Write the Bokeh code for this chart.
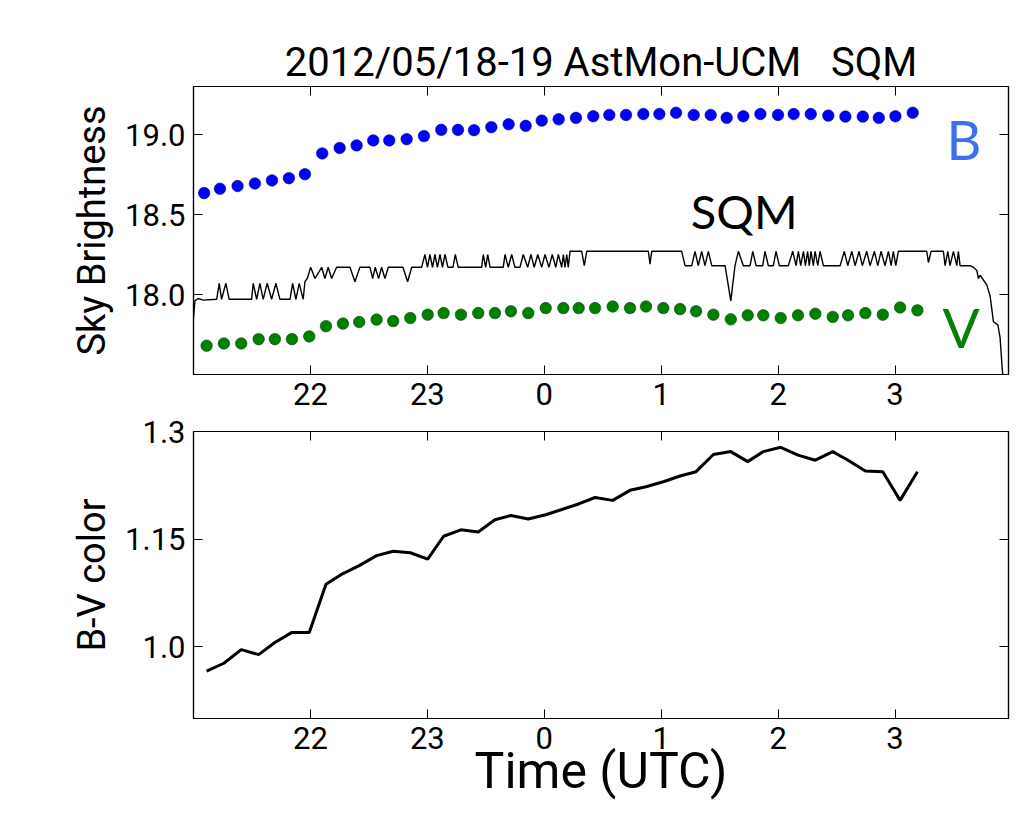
from bokeh.plotting import figure
from bokeh.layouts import column
from bokeh.models import Range1d, FixedTicker, LinearAxis, Label
from bokeh.embed import file_html
from bokeh.resources import INLINE

# ---------------- data (time in hours relative to 0h UTC of 2012/05/19) ----------------
x_ticks = [-2, -1, 0, 1, 2, 3]
x_tick_labels = ["22", "23", "0", "1", "2", "3"]
top_y_ticks = [18.0, 18.5, 19.0]
top_y_tick_labels = ["18.0", "18.5", "19.0"]
bot_y_ticks = [1.0, 1.15, 1.3]
bot_y_tick_labels = ["1.0", "1.15", "1.3"]

b_time = [-2.909, -2.774, -2.623, -2.475, -2.329, -2.184, -2.047, -1.899, -1.750, -1.605,
          -1.463, -1.326, -1.177, -1.029, -0.881, -0.738, -0.601, -0.453, -0.305, -0.159,
          -0.022, 0.123, 0.271, 0.419, 0.556, 0.699, 0.847, 0.984, 1.127, 1.278,
          1.423, 1.560, 1.702, 1.848, 1.999, 2.133, 2.279, 2.429, 2.575, 2.724,
          2.861, 3.003, 3.151]
b_mag = [18.634, 18.661, 18.678, 18.694, 18.713, 18.727, 18.752, 18.882, 18.916, 18.932,
         18.963, 18.963, 18.971, 18.990, 19.029, 19.029, 19.027, 19.046, 19.064, 19.054,
         19.087, 19.095, 19.104, 19.114, 19.122, 19.122, 19.128, 19.128, 19.136, 19.122,
         19.122, 19.104, 19.114, 19.128, 19.122, 19.128, 19.128, 19.118, 19.112, 19.112,
         19.104, 19.114, 19.136]

v_time = [-2.888, -2.740, -2.592, -2.443, -2.304, -2.158, -2.010, -1.867, -1.722, -1.583,
          -1.434, -1.292, -1.146, -0.997, -0.861, -0.713, -0.565, -0.422, -0.285, -0.137,
          0.012, 0.163, 0.294, 0.434, 0.585, 0.733, 0.870, 1.018, 1.161, 1.298,
          1.446, 1.595, 1.740, 1.873, 2.022, 2.170, 2.318, 2.467, 2.598, 2.746,
          2.895, 3.043, 3.191]
v_mag = [17.680, 17.694, 17.694, 17.721, 17.721, 17.721, 17.738, 17.802, 17.818, 17.828,
         17.843, 17.834, 17.853, 17.874, 17.884, 17.874, 17.884, 17.884, 17.895, 17.884,
         17.915, 17.915, 17.915, 17.915, 17.925, 17.915, 17.925, 17.915, 17.909, 17.895,
         17.874, 17.845, 17.870, 17.870, 17.853, 17.870, 17.880, 17.860, 17.870, 17.884,
         17.874, 17.919, 17.901]

bv_color = [0.966, 0.977, 0.996, 0.989, 1.006, 1.020, 1.020, 1.087, 1.102, 1.113,
            1.127, 1.133, 1.131, 1.122, 1.154, 1.163, 1.160, 1.177, 1.183, 1.178,
            1.184, 1.192, 1.199, 1.208, 1.204, 1.218, 1.223, 1.230, 1.238, 1.244,
            1.268, 1.272, 1.258, 1.272, 1.278, 1.267, 1.260, 1.272, 1.260, 1.245,
            1.244, 1.204, 1.244]

sqm_time = [-3.000, -2.988, -2.960, -2.917, -2.802, -2.780, -2.760, -2.723, -2.695, -2.503,
            -2.489, -2.460, -2.432, -2.404, -2.370, -2.332, -2.295, -2.261, -2.175, -2.152,
            -2.124, -2.096, -2.062, -2.047, -2.027,
            -1.998, -1.961, -1.904, -1.876, -1.848, -1.819, -1.776, -1.662, -1.619, -1.577,
            -1.491, -1.468, -1.446, -1.417, -1.391, -1.363, -1.334, -1.209, -1.169, -1.134,
            -1.049,
            -1.021, -0.999, -0.978, -0.956, -0.935, -0.914, -0.892, -0.871, -0.849, -0.824,
            -0.781, -0.761, -0.736, -0.536, -0.522, -0.501, -0.484, -0.464, -0.351, -0.336,
            -0.308, -0.279, -0.251, -0.208, -0.180, -0.142, -0.114, -0.086, -0.056, -0.022,
            0.006, 0.040, 0.068, 0.098, 0.120, 0.149, 0.163, 0.177, 0.192, 0.205,
            0.220, 0.320, 0.342, 0.363, 0.890, 0.904, 0.919, 1.175, 1.204, 1.261,
            1.289, 1.317, 1.346, 1.374, 1.403, 1.432, 1.546, 1.595, 1.631, 1.660,
            1.702, 1.760, 1.783, 1.811, 1.868, 1.888, 1.916, 1.959, 1.982, 2.010,
            2.087, 2.125, 2.153, 2.173, 2.193, 2.216, 2.233, 2.252, 2.266, 2.281,
            2.301, 2.316, 2.339, 2.358, 2.387, 2.530, 2.566, 2.595, 2.630, 2.658,
            2.692, 2.720, 2.758, 2.786, 2.823, 2.852, 2.880, 2.914, 2.943, 2.966,
            2.985, 3.006, 3.028, 3.271, 3.285, 3.308, 3.413, 3.428, 3.451, 3.470,
            3.499, 3.528, 3.541, 3.556, 3.642, 3.670, 3.699, 3.713, 3.727, 3.747,
            3.784, 3.813, 3.841, 3.879, 3.898, 3.918, 3.932]
sqm_mag = [17.85, 17.96, 17.975, 17.965, 17.97, 18.07, 17.97, 18.07, 17.97, 17.97,
           18.07, 17.97, 18.07, 17.97, 18.07, 17.97, 18.07, 17.97, 17.97, 18.07,
           17.97, 18.07, 17.97, 18.08, 18.10,
           18.17, 18.10, 18.17, 18.10, 18.17, 18.10, 18.17, 18.17, 18.08, 18.17,
           18.17, 18.10, 18.17, 18.10, 18.17, 18.10, 18.17, 18.17, 18.08, 18.17,
           18.17,
           18.25, 18.17, 18.25, 18.17, 18.25, 18.17, 18.25, 18.17, 18.25, 18.17,
           18.17, 18.25, 18.17, 18.17, 18.25, 18.17, 18.25, 18.17, 18.17, 18.25,
           18.17, 18.25, 18.17, 18.17, 18.25, 18.17, 18.25, 18.17, 18.25, 18.17,
           18.25, 18.17, 18.25, 18.17, 18.25, 18.17, 18.25, 18.17, 18.25, 18.17,
           18.27, 18.27, 18.18, 18.27, 18.27, 18.19, 18.27, 18.27, 18.18, 18.18,
           18.27, 18.18, 18.27, 18.18, 18.27, 18.18, 18.18, 17.96, 18.18, 18.27,
           18.18, 18.18, 18.27, 18.18, 18.18, 18.27, 18.18, 18.18, 18.27, 18.18,
           18.18, 18.27, 18.18, 18.27, 18.18, 18.27, 18.18, 18.27, 18.18, 18.27,
           18.18, 18.27, 18.18, 18.27, 18.18, 18.18, 18.27, 18.18, 18.27, 18.18,
           18.27, 18.18, 18.27, 18.18, 18.27, 18.18, 18.27, 18.18, 18.27, 18.18,
           18.27, 18.18, 18.27, 18.27, 18.20, 18.27, 18.27, 18.18, 18.27, 18.18,
           18.27, 18.18, 18.27, 18.18, 18.18, 18.17, 18.15, 18.10, 18.12, 18.10,
           18.06, 17.99, 17.83, 17.81, 17.73, 17.52, 17.45]

# ---------------- styling ----------------
AX_FONT = "Roboto"
TICK_SIZE = "31px"
LABEL_SIZE = "38px"
ANNOT_FONT = "Lato"
X_RANGE = (-3.0, 3.97)


def style_axis(ax, ticks, labels, show):
    ax.ticker = FixedTicker(ticks=ticks)
    ax.major_tick_in = 9
    ax.major_tick_out = 0
    ax.major_tick_line_color = "black"
    ax.major_tick_line_width = 1
    ax.minor_tick_line_color = None
    ax.axis_line_color = "black"
    ax.axis_line_width = 1.2
    ax.major_label_text_font = AX_FONT
    ax.major_label_text_color = "black"
    ax.axis_label_text_font = AX_FONT
    ax.axis_label_text_font_style = "normal"
    ax.axis_label_text_color = "black"
    ax.axis_label_text_font_size = LABEL_SIZE
    if show:
        ax.major_label_overrides = {t: l for t, l in zip(ticks, labels)}
        ax.major_label_text_font_size = TICK_SIZE
        ax.major_label_standoff = 8
    else:
        ax.major_label_overrides = {t: "" for t in ticks}
        ax.major_label_text_font_size = "0px"
        ax.major_label_standoff = 0


def make_fig(y_range, y_ticks, y_labels, border_top, border_bottom, frame_h):
    p = figure(output_backend="svg", toolbar_location=None,
               x_range=Range1d(*X_RANGE), y_range=Range1d(*y_range),
               frame_width=815, frame_height=frame_h,
               min_border_left=193, min_border_right=3,
               min_border_top=border_top, min_border_bottom=border_bottom,
               x_axis_location=None, y_axis_location=None)
    p.grid.visible = False
    p.outline_line_color = "black"
    p.outline_line_width = 1.2
    p.background_fill_color = "white"
    p.border_fill_color = "white"
    bx = LinearAxis(); style_axis(bx, x_ticks, x_tick_labels, True); p.add_layout(bx, "below")
    tx = LinearAxis(); style_axis(tx, x_ticks, x_tick_labels, False); p.add_layout(tx, "above")
    ly = LinearAxis(); style_axis(ly, y_ticks, y_labels, True); p.add_layout(ly, "left")
    ry = LinearAxis(); style_axis(ry, y_ticks, y_labels, False); p.add_layout(ry, "right")
    return p, bx, ly


# ---------------- top panel ----------------
p1, p1x, p1y = make_fig((17.5, 19.3), top_y_ticks, top_y_tick_labels, 86, 41, 288)
p1y.axis_label = "Sky Brightness"
p1y.axis_label_standoff = 8
p1.title.text = "2012/05/18-19 AstMon-UCM\u00a0\u00a0 SQM"
p1.title.align = "center"
p1.title.text_font = AX_FONT
p1.title.text_font_size = "40px"
p1.title.text_font_style = "normal"
p1.title.text_color = "black"
p1.title.standoff = 2

p1.line(sqm_time, sqm_mag, line_color="black", line_width=1.4)
p1.scatter(b_time, b_mag, size=11.5, fill_color="#0000ff", line_color="#00008a", line_width=0.6)
p1.scatter(v_time, v_mag, size=11.5, fill_color="#008000", line_color="#004000", line_width=0.6)

p1.add_layout(Label(x=3.59, y=18.97, text="B", text_font=ANNOT_FONT, text_font_size="54px",
                    text_color="#3d6ff0", text_align="center", text_baseline="alphabetic"))
p1.add_layout(Label(x=1.71, y=18.52, text="SQM", text_font=ANNOT_FONT, text_font_size="47px",
                    text_color="black", text_align="center", text_baseline="alphabetic"))
p1.add_layout(Label(x=3.565, y=17.797, text="V", text_font=ANNOT_FONT, text_font_size="55px",
                    text_color="#0a7d0a", text_align="center", text_baseline="alphabetic"))

# ---------------- bottom panel ----------------
p2, p2x, p2y = make_fig((0.9, 1.3), bot_y_ticks, bot_y_tick_labels, 16, 95, 287)
p2y.axis_label = "B-V color"
p2y.axis_label_standoff = 8
p2x.axis_label = "Time (UTC)"
p2x.axis_label_text_font_size = "50px"
p2x.axis_label_standoff = -10

p2.line(v_time, bv_color, line_color="black", line_width=3)

layout = column(p1, p2, spacing=0)
open("out.html", "w").write(file_html(layout, INLINE))
